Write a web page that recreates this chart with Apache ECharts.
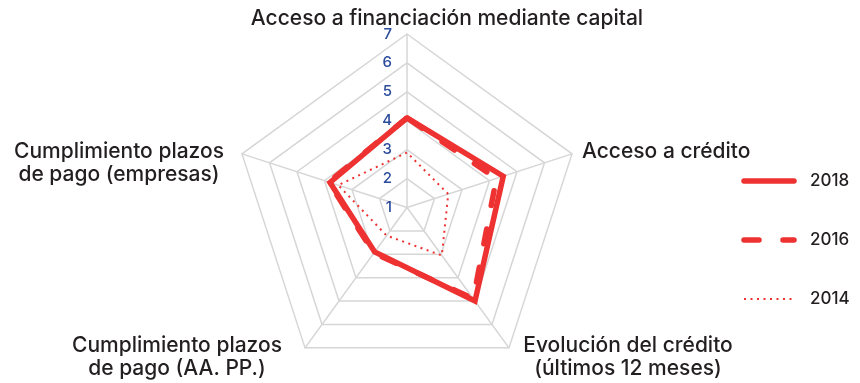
<!DOCTYPE html>
<html><head><meta charset="utf-8">
<script src="https://cdn.jsdelivr.net/npm/echarts@6/dist/echarts.min.js"></script>
<style>html,body{margin:0;padding:0;background:#fff}#c{width:860px;height:383px}</style>
</head><body><div id="c"></div>
<script>
// ---- data ----
const categories = [
  'Acceso a financiación mediante capital',
  'Cumplimiento plazos\nde pago (empresas)',
  'Cumplimiento plazos\nde pago (AA. PP.)',
  'Evolución del crédito\n(últimos 12 meses)',
  'Acceso a crédito'
];
const years = ['2018', '2016', '2014'];
const values2018 = [4.1, 3.8, 2.9, 5.0, 4.5];
const values2016 = [4.1, 3.85, 2.95, 4.9, 4.25];
const values2014 = [2.9, 3.5, 2.2, 3.05, 2.5];
const tickLabels = ['1', '2', '3', '4', '5', '6', '7'];
const axisMin = 1, axisMax = 7;

// ---- styles / layout ----
const FONT = 'Inter, "Liberation Sans", Arial, sans-serif';
const RED = '#ee3131';
const GRID = '#d6d6d6';
const lineStyles = [
  { type: 'solid', width: 5.5, cap: 'butt', dash: null },
  { type: [15, 24], width: 5.5, cap: 'round', dash: [15, 24] },
  { type: [2, 4.5], width: 2, cap: 'butt', dash: [2, 4.5] }
];
const namePos = [
  { x: 447, y: 19, align: 'center' },
  { x: 119, y: 163, align: 'center' },
  { x: 177, y: 357, align: 'center' },
  { x: 628, y: 357, align: 'center' },
  { x: 582, y: 152, align: 'left' }
];
const legendY = [181, 240, 299];

const seriesValues = [values2018, values2016, values2014];

const chart = echarts.init(document.getElementById('c'), null, { renderer: 'canvas' });

const graphics = [];
categories.forEach((name, i) => {
  const p = namePos[i];
  graphics.push({
    type: 'text', x: p.x, y: p.y, silent: true,
    style: {
      text: name, x: 0, y: 0, align: p.align, verticalAlign: 'middle',
      font: '500 21px ' + FONT, fill: '#231f20', lineHeight: 23
    }
  });
});
years.forEach((yr, i) => {
  const s = lineStyles[i];
  graphics.push({
    type: 'line', silent: true,
    shape: { x1: 744, y1: legendY[i], x2: 794, y2: legendY[i] },
    style: { stroke: RED, lineWidth: s.width, lineDash: s.dash, lineCap: i === 2 ? 'butt' : 'round' }
  });
  graphics.push({
    type: 'text', silent: true, x: 810, y: legendY[i],
    style: { text: yr, x: 0, y: 0, align: 'left', verticalAlign: 'middle', font: '500 17px ' + FONT, fill: '#231f20' }
  });
});

chart.setOption({
  animation: false,
  backgroundColor: '#fff',
  radar: {
    center: [407, 207.5],
    radius: 173.5,
    startAngle: 90,
    splitNumber: 6,
    shape: 'polygon',
    indicator: categories.map((n, i) => ({ name: n, min: axisMin, max: axisMax, axisLabel: { show: i === 0 } })),
    axisName: { show: false },
    splitLine: { lineStyle: { color: GRID, width: 1.5 } },
    splitArea: { show: false },
    axisLine: { lineStyle: { color: GRID, width: 1.5 } },
    axisTick: { show: false },
    axisLabel: {
      show: true, color: '#2b4c9b', fontSize: 15, fontFamily: FONT, fontWeight: 500, margin: 15,
      formatter: v => tickLabels[Math.round(v - axisMin)] ?? ''
    }
  },
  series: [{
    type: 'radar',
    symbol: 'none',
    data: years.map((yr, i) => ({
      name: yr,
      value: seriesValues[i],
      lineStyle: { color: RED, width: lineStyles[i].width, type: lineStyles[i].type, cap: lineStyles[i].cap, join: 'miter' }
    })).reverse()
  }],
  graphic: graphics
});
</script>
</body></html>
